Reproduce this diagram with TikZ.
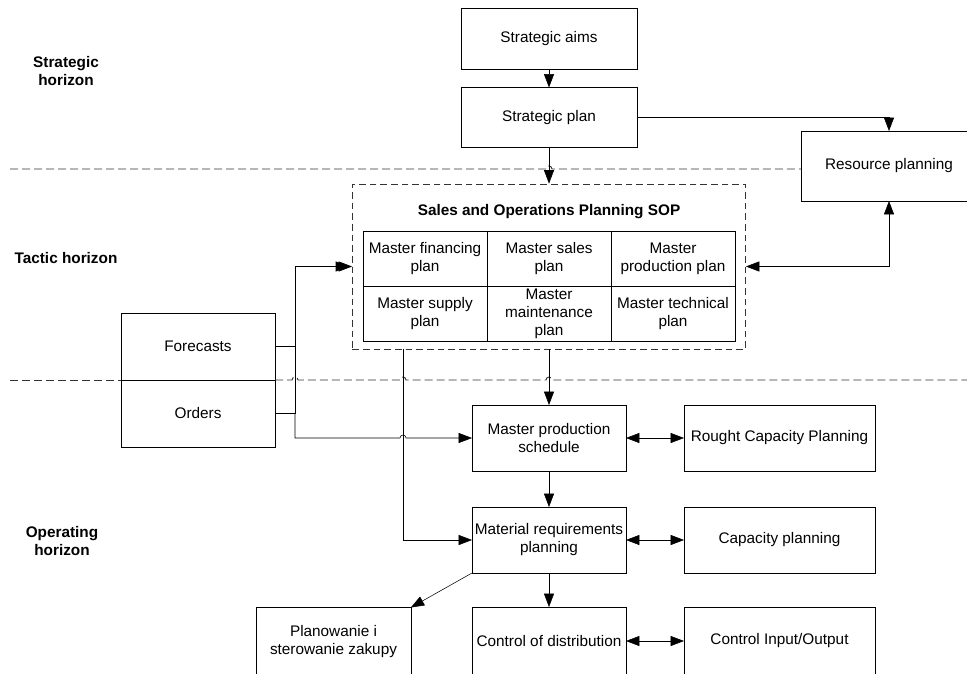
\documentclass[tikz,border=0pt]{standalone}
\usepackage{fontspec}
\setmainfont{Liberation Sans}
\usetikzlibrary{positioning,arrows.meta,calc}
\tikzset{
	>={Triangle[length=10pt,width=7.5pt]}, % filled arrow heads
	line width=0.6pt,
	box/.style={draw, align=center, inner sep=2pt, outer sep=0pt}, % plain boxes
	cell/.style={box, inner sep=1pt, minimum width=93pt, minimum height=41.25pt}, % cells of the SOP table
	sopbox/.style={draw, dashed, dash pattern=on 5pt off 3pt, black!80}, % dashed SOP frame
	horizon/.style={dash pattern=on 6pt off 3pt, line width=0.7pt, black!80}, % lines between horizons
	lbl/.style={font=\bfseries, align=center}, % horizon names
}

\begin{document}
\fontsize{11.5pt}{13.5pt}\selectfont
\begin{tikzpicture}[x=0.75pt, y=-0.75pt]
	\useasboundingbox (0,0) rectangle (967,674);
	\clip (0,0) rectangle (967,674);
	
	% horizon names
	\node[lbl] (hstr) at (66,71) {Strategic\\horizon};
	\node[lbl] (htac) at (66,258) {Tactic horizon};
	\node[lbl] (hop) at (62,541) {Operating\\horizon};
	
	% strategic horizon
	\node[box, minimum width=132pt, minimum height=45.5pt] (aims) at (549,38.5) {Strategic aims};
	\node[box, minimum width=132pt, minimum height=44.5pt, below=14pt of aims] (splan) {Strategic plan};
	\node[box, minimum width=132pt, minimum height=52.5pt] (res) at (889,166) {Resource planning};
	
	% tactic horizon
	\node[sopbox, minimum width=295pt, minimum height=124pt] (sop) at (549,266.5) {};
	\node[font=\bfseries] (soptitle) at (549,212) {Sales and Operations Planning SOP};
	\node[cell] (fin) at (425,258.5) {Master financing\\plan};
	\node[cell, right=0pt of fin] (sales) {Master sales\\plan};
	\node[cell, right=0pt of sales] (prod) {Master\\production plan};
	\node[cell, below=0pt of fin] (supply) {Master supply\\plan};
	\node[cell, below=0pt of sales] (maint) {Master\\maintenance\\plan};
	\node[cell, below=0pt of prod] (tech) {Master technical\\plan};
	
	\node[box, minimum width=115.5pt, minimum height=50.25pt] (fc) at (198,346.5) {Forecasts};
	\node[box, minimum width=115.5pt, minimum height=50.25pt, below=0pt of fc] (ord) {Orders};
	
	% operating horizon
	\node[box, minimum width=115.5pt, minimum height=49.5pt] (mps) at (549,438) {Master production\\schedule};
	\node[box, minimum width=143.25pt, minimum height=49.5pt, right=43.5pt of mps] (rcp) {Rought Capacity Planning};
	\node[box, minimum width=115.5pt, minimum height=49.5pt, below=27pt of mps] (mrp) {Material requirements\\planning};
	\node[box, minimum width=143.25pt, minimum height=49.5pt, right=43.5pt of mrp] (cp) {Capacity planning};
	\node[box, minimum width=115.5pt, minimum height=51pt, below=25.5pt of mrp] (cod) {Control of distribution};
	\node[box, minimum width=143.25pt, minimum height=51pt, right=43.5pt of cod] (cio) {Control Input/Output};
	\node[box, minimum width=116pt, minimum height=51pt] (pur) at (333.5,641.5) {Planowanie i\\sterowanie zakupy};
	
	\coordinate (jn) at (295,380);
	\coordinate (drop) at (403,349);
	
	% horizon lines
	\draw[horizon] (10,169) -- (546,169) arc[start angle=180, end angle=0, radius=2.25pt] -- (801,169);
	\draw[horizon] (10,380) -- (fc.south west);
	\draw[horizon] (fc.south east) -- (292,380) arc[start angle=180, end angle=0, radius=2.25pt]
		-- (400,380) arc[start angle=180, end angle=0, radius=2.25pt]
		-- (546,380) arc[start angle=180, end angle=0, radius=2.25pt] -- (967,380);
	
	% connectors
	\draw[->] (aims) -- (splan);
	\draw[->] (splan.east) -| (res.north);
	\draw[->] (splan) -- (sop);
	\draw[<->] (sop.east) -| (res.south);
	\draw[->] (fc.east) -- (fc.east -| jn) |- (sop.west);
	\draw[->] (ord.east) -- (ord.east -| jn) |- ($(sop.west)+(-3,0)$);
	\draw[->] (ord.east -| jn) |- ($(drop |- mps.west)+(-3,0)$) arc[start angle=180, end angle=0, radius=2.25pt] -- (mps.west);
	\draw[->] (drop) |- (mrp.west);
	\draw[->] (sop) -- (mps);
	\draw[<->] (mps) -- (rcp);
	\draw[->] (mps) -- (mrp);
	\draw[<->] (mrp) -- (cp);
	\draw[->] (mrp) -- (cod);
	\draw[<->] (cod) -- (cio);
	\draw[->] (mrp.south west) -- (pur.north east);
\end{tikzpicture}
\end{document}
